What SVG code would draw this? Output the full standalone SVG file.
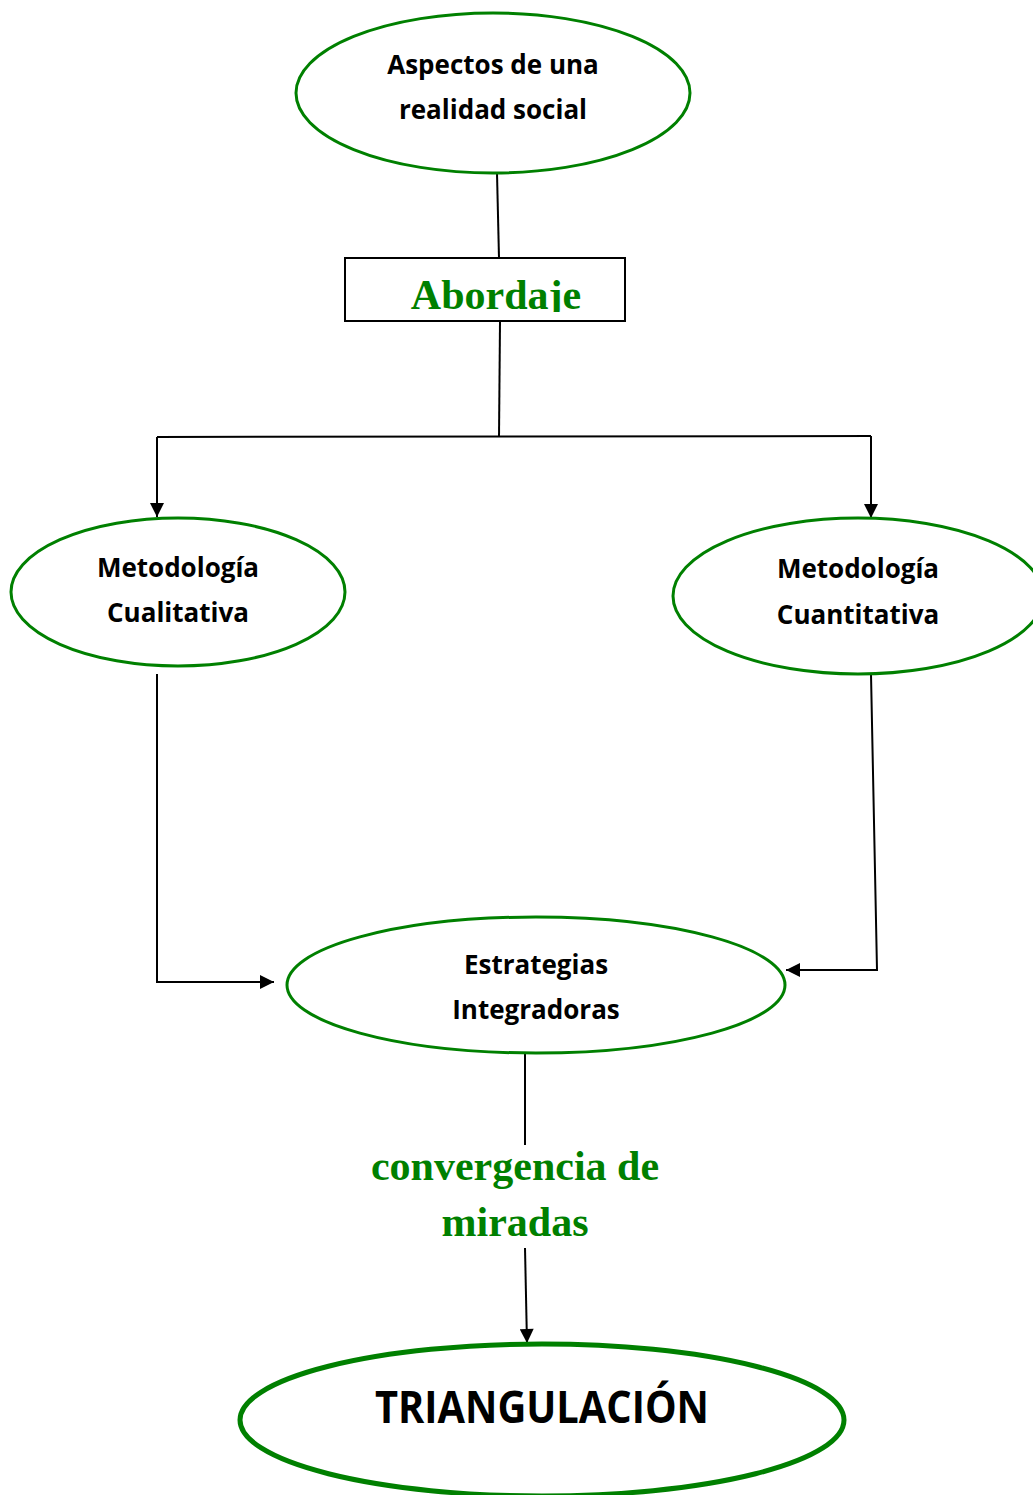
<svg xmlns="http://www.w3.org/2000/svg" width="1033" height="1495" viewBox="0 0 1033 1495">
<style>
.node{fill:#fff;stroke:#008000;stroke-width:3}
.lbl{font-family:"Open Sans","Liberation Sans",sans-serif;font-weight:bold;font-size:26px;fill:#000;text-anchor:middle}
.big{font-size:44px}
.grn{font-family:"Liberation Serif",serif;font-weight:bold;fill:#008000;text-anchor:middle}
.g42{font-size:42px}
.con{fill:none;stroke:#000;stroke-width:2}
</style>
<defs>
<marker id="arrL" viewBox="0 0 10 10" refX="10" refY="5" markerWidth="16" markerHeight="14" markerUnits="userSpaceOnUse" orient="auto"><path d="M0,0 L10,5 L0,10 z" fill="#000"/></marker>
<clipPath id="boxclip"><rect x="346" y="259" width="278" height="53"/></clipPath>
</defs>
<g id="connectors">
<line class="con" x1="497" y1="173" x2="499" y2="258"/>
<line class="con" x1="500" y1="322" x2="499" y2="437"/>
<polyline class="con" points="157,437 871,436"/>
<line class="con" x1="157" y1="437" x2="157" y2="517" marker-end="url(#arrL)"/>
<line class="con" x1="871" y1="436" x2="871" y2="518" marker-end="url(#arrL)"/>
<polyline class="con" points="157,674 157,982 274,982" marker-end="url(#arrL)"/>
<polyline class="con" points="871,674 877,970 786,970" marker-end="url(#arrL)"/>
<line class="con" x1="525" y1="1053" x2="525" y2="1145"/>
<line class="con" x1="525" y1="1248" x2="527" y2="1343" marker-end="url(#arrL)"/>
</g>
<g id="n-aspectos">
<ellipse class="node" cx="493" cy="93" rx="197" ry="80"/>
<text class="lbl" x="493" y="74">Aspectos de una</text>
<text class="lbl" x="493" y="119">realidad social</text>
</g>
<g id="n-abordaje">
<rect x="345" y="258" width="280" height="63" fill="#fff" stroke="#000" stroke-width="2"/>
<text class="grn g42" x="496" y="309" clip-path="url(#boxclip)">Abordaje</text>
</g>
<g id="n-cualitativa">
<ellipse class="node" cx="178" cy="592" rx="167" ry="74"/>
<text class="lbl" x="178" y="577">Metodología</text>
<text class="lbl" x="178" y="622">Cualitativa</text>
</g>
<g id="n-cuantitativa">
<ellipse class="node" cx="858" cy="596" rx="185" ry="78"/>
<text class="lbl" x="858" y="578">Metodología</text>
<text class="lbl" x="858" y="624">Cuantitativa</text>
</g>
<g id="n-estrategias">
<ellipse class="node" cx="536" cy="985" rx="249" ry="68"/>
<text class="lbl" x="536" y="974">Estrategias</text>
<text class="lbl" x="536" y="1019">Integradoras</text>
</g>
<g id="n-convergencia">
<text class="grn g42" x="515" y="1180">convergencia de</text>
<text class="grn g42" x="515" y="1236">miradas</text>
</g>
<g id="n-triangulacion">
<ellipse cx="542" cy="1420" rx="302" ry="76" fill="#fff" stroke="#008000" stroke-width="5"/>
<text class="lbl big" x="542" y="1423" textLength="334" lengthAdjust="spacingAndGlyphs">TRIANGULACIÓN</text>
</g>
</svg>
